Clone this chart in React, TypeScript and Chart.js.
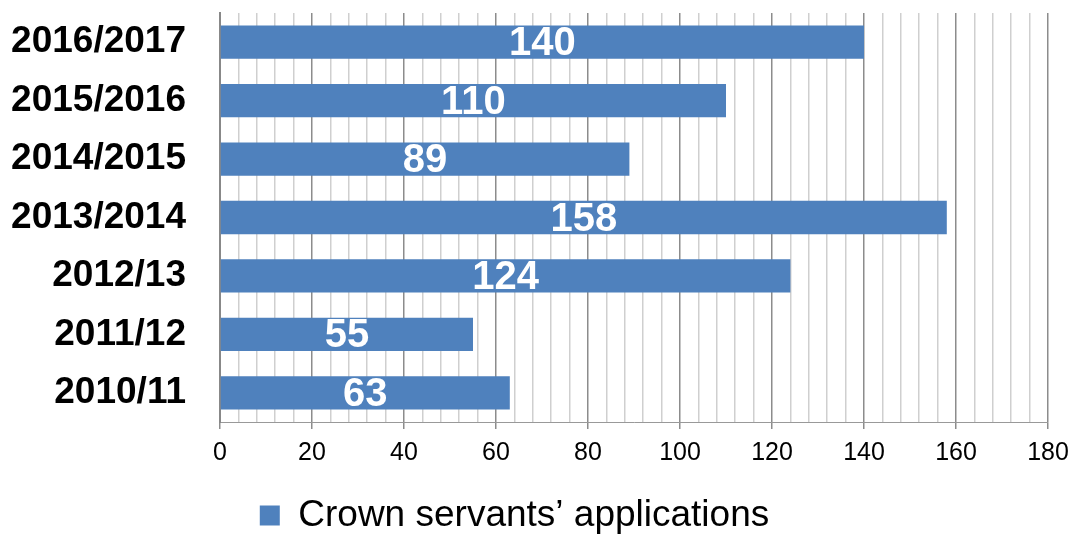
import React, { useEffect, useRef } from "react";
import { Chart, registerables } from "chart.js";

Chart.register(...registerables);

const categories = ["2016/2017", "2015/2016", "2014/2015", "2013/2014", "2012/13", "2011/12", "2010/11"];
const values = [140, 110, 89, 158, 124, 55, 63];
const seriesName = "Crown servants\u2019 applications";
const xMin = 0;
const xMax = 180;
const majorStep = 20;
const minorStep = 4;

const FONT = '"Liberation Sans", Arial, sans-serif';

const dataLabelPlugin = {
  id: "dataLabels",
  afterDatasetsDraw(chart: any) {
    const ctx = chart.ctx;
    const meta = chart.getDatasetMeta(0);
    ctx.save();
    ctx.fillStyle = "#ffffff";
    ctx.font = `bold 40px ${FONT}`;
    ctx.textAlign = "center";
    ctx.textBaseline = "middle";
    meta.data.forEach((el: any, i: number) => {
      const v = chart.data.datasets[0].data[i];
      const cx = (el.x + el.base) / 2;
      ctx.fillText(String(v), cx, el.y + 2);
    });
    ctx.restore();
  },
};

const legendShiftPlugin = {
  id: "legendShift",
  afterLayout(chart: any) {
    const lg = chart.legend;
    if (!lg) return;
    lg.left -= 15;
    lg.right -= 15;
    lg.top += 5;
    lg.bottom += 5;
  },
};

const zeroPad = (s: any) => {
  s.paddingTop = 0;
  s.paddingBottom = 0;
  s.paddingLeft = 0;
  s.paddingRight = 0;
};

export default function App() {
  const ref = useRef<HTMLCanvasElement>(null);
  useEffect(() => {
    document.body.style.margin = "0";
    const chart = new Chart(ref.current!, {
      type: "bar",
      data: {
        labels: categories,
        datasets: [
          {
            label: seriesName,
            data: values,
            backgroundColor: "#4F81BD",
            borderColor: "#4F81BD",
            borderWidth: 0,
            barPercentage: 0.57,
            categoryPercentage: 1,
          },
        ],
      },
      options: {
        indexAxis: "y",
        animation: false,
        responsive: false,
        layout: { padding: { top: 13, right: 28, left: 11, bottom: 0 } },
        scales: {
          x: {
            min: xMin,
            max: xMax,
            afterFit: (s: any) => {
              zeroPad(s);
              s.height = 66;
            },
            border: { display: true, color: "#999999", width: 1 },
            grid: {
              color: (c: any) => (c.tick && c.tick.value % majorStep === 0 ? "#8c8c8c" : "#cfcfcf"),
              lineWidth: 1.5,
              tickColor: (c: any) => (c.tick && c.tick.value % majorStep === 0 ? "#8c8c8c" : "rgba(0,0,0,0)"),
              tickLength: 7,
            },
            ticks: {
              stepSize: minorStep,
              autoSkip: false,
              maxRotation: 0,
              minRotation: 0,
              padding: 9,
              color: "#000000",
              font: { family: FONT, size: 25 },
              callback: (v: any) => (Number(v) % majorStep === 0 ? String(v) : ""),
            },
          },
          y: {
            afterFit: (s: any) => {
              zeroPad(s);
              s.width = 209;
            },
            border: { display: true, color: "#888888", width: 2 },
            grid: { display: false, drawTicks: false },
            ticks: {
              padding: 34,
              color: "#000000",
              font: { family: FONT, size: 37, weight: "bold" },
            },
          },
        },
        plugins: {
          legend: {
            display: true,
            position: "bottom",
            labels: {
              boxWidth: 20,
              boxHeight: 20,
              padding: 4,
              color: "#000000",
              font: { family: FONT, size: 37 },
            },
          },
          tooltip: { enabled: false },
        },
      },
      plugins: [dataLabelPlugin, legendShiftPlugin],
    } as any);
    return () => chart.destroy();
  }, []);
  return (
    <div style={{ width: 1076, height: 539 }}>
      <canvas ref={ref} width={1076} height={539} style={{ width: 1076, height: 539 }} />
    </div>
  );
}
